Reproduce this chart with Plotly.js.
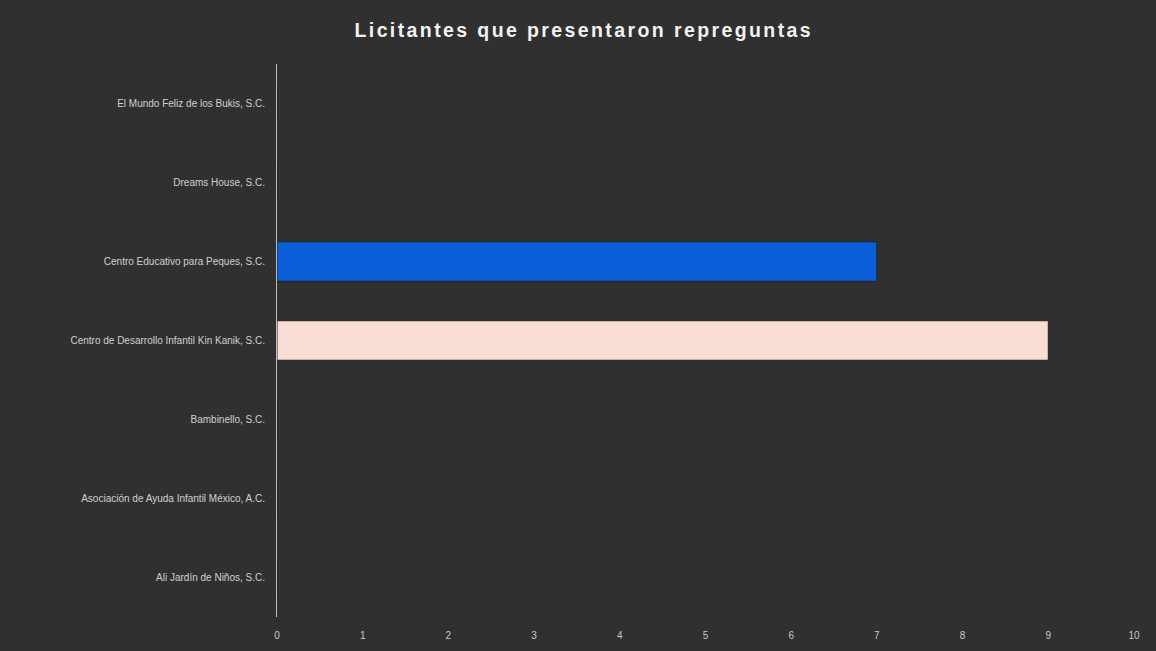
<!DOCTYPE html>
<html>
<head>
<meta charset="utf-8">
<script src="https://cdn.plot.ly/plotly-3.0.1.min.js"></script>
<style>
html,body{margin:0;padding:0;background:#303030;}
#chart{width:1156px;height:651px;}
.gtitle{letter-spacing:2.4px;}
</style>
</head>
<body>
<div id="chart"></div>
<script>
const categories = [
  "Ali Jardín de Niños, S.C.",
  "Asociación de Ayuda Infantil México, A.C.",
  "Bambinello, S.C.",
  "Centro de Desarrollo Infantil Kin Kanik, S.C.",
  "Centro Educativo para Peques, S.C.",
  "Dreams House, S.C.",
  "El Mundo Feliz de los Bukis, S.C."
];
const values = [0, 0, 0, 9, 7, 0, 0];
const barColors = ["#0a5fd8", "#0a5fd8", "#0a5fd8", "#f7ddd3", "#0a5fd8", "#0a5fd8", "#0a5fd8"];
const tickVals = [0,1,2,3,4,5,6,7,8,9,10];

const trace = {
  type: "bar",
  orientation: "h",
  y: categories,
  x: values,
  marker: {color: barColors, line: {color: "#222", width: 1}},
  width: 0.5,
  hoverinfo: "x+y"
};

const layout = {
  width: 1156,
  height: 651,
  paper_bgcolor: "#303030",
  plot_bgcolor: "#303030",
  margin: {l: 277, r: 22, t: 64, b: 34},
  title: {
    text: "<b>Licitantes que presentaron repreguntas</b>",
    font: {family: "Arial, Liberation Sans, sans-serif", size: 19.5, color: "#f2f2f2"},
    x: 0.505, xanchor: "center", y: 0.953, yanchor: "middle"
  },
  xaxis: {
    range: [0, 10],
    tickvals: tickVals,
    showgrid: false,
    zeroline: false,
    showline: false,
    ticks: "",
    tickfont: {family: "Arial, Liberation Sans, sans-serif", size: 10, color: "#c8c8c8"},
    ticklabelstandoff: 11
  },
  yaxis: {
    type: "category",
    categoryorder: "array",
    categoryarray: categories,
    showgrid: false,
    zeroline: false,
    showline: true,
    linecolor: "#bdbdbd",
    linewidth: 1,
    ticks: "",
    tickfont: {family: "Arial, Liberation Sans, sans-serif", size: 10, color: "#d0d0d0"},
    ticklabelstandoff: 9
  },
  showlegend: false,
  bargap: 0.5
};

Plotly.newPlot("chart", [trace], layout, {displayModeBar: false});
</script>
</body>
</html>
